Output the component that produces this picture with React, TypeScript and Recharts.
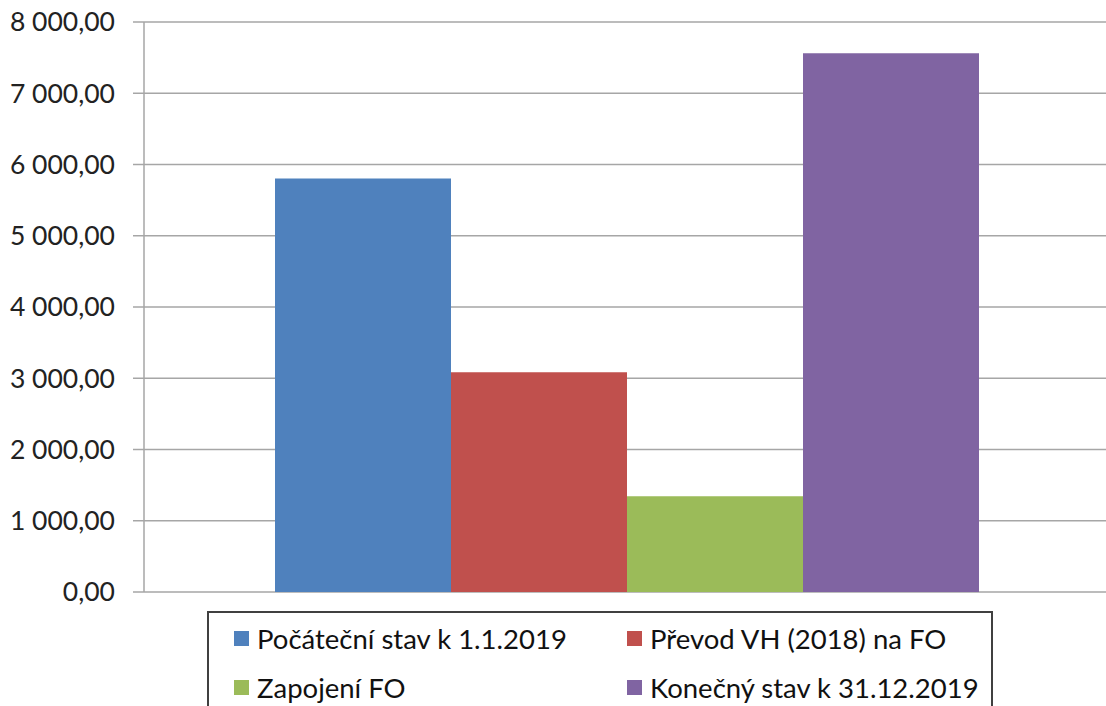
import React from 'react';
import { BarChart, Bar, XAxis, YAxis, CartesianGrid } from 'recharts';

const categories = ['2019'];
const seriesNames = [
  'Počáteční stav k 1.1.2019',
  'Převod VH (2018) na FO',
  'Zapojení FO',
  'Konečný stav k 31.12.2019',
];
const seriesValues = [5805, 3085, 1345, 7560];
const yTicks = [0, 1000, 2000, 3000, 4000, 5000, 6000, 7000, 8000];

const COLORS = ['#4F81BD', '#C0504D', '#9BBB59', '#8064A2'];
const FONT = 'Lato, "Liberation Sans", sans-serif';

const chartData = categories.map((cat) => {
  const row: Record<string, string | number> = { name: cat };
  seriesNames.forEach((s, i) => {
    row[`s${i}`] = seriesValues[i];
  });
  return row;
});

// "8 000,00" style labels
const formatTick = (v: number) => {
  const fixed = v.toFixed(2).replace('.', ',');
  const [int, dec] = fixed.split(',');
  return int.replace(/\B(?=(\d{3})+(?!\d))/g, ' ') + ',' + dec;
};

const App: React.FC = () => {
  return (
    <div
      style={{
        position: 'absolute',
        left: 0,
        top: 0,
        width: 1106,
        height: 706,
        overflow: 'hidden',
        background: '#fff',
        fontFamily: FONT,
      }}
    >
      <BarChart
        width={1120}
        height={706}
        data={chartData}
        margin={{ top: 22, right: 10, left: 0, bottom: 114 }}
        barCategoryGap={131}
        barGap={0}
      >
        <CartesianGrid vertical={false} stroke="#a6a6a6" strokeWidth={1.5} />
        <XAxis dataKey="name" hide />
        <YAxis
          width={144}
          domain={[0, 8000]}
          ticks={yTicks}
          interval={0}
          tickFormatter={formatTick}
          axisLine={{ stroke: '#a6a6a6', strokeWidth: 1.5 }}
          tickLine={{ stroke: '#a6a6a6', strokeWidth: 1.5 }}
          tickSize={11}
          tickMargin={18}
          tick={{ fontSize: 26.5, fill: '#222', fontFamily: FONT }}
        />
        {seriesNames.map((s, i) => (
          <Bar key={s} dataKey={`s${i}`} name={s} fill={COLORS[i]} isAnimationActive={false} />
        ))}
      </BarChart>

      {/* Legend box */}
      <div
        style={{
          position: 'absolute',
          left: 207,
          top: 611,
          width: 786,
          height: 120,
          border: '2px solid #404040',
          boxSizing: 'border-box',
          display: 'grid',
          gridTemplateColumns: '393px 393px',
          gridAutoRows: '49px',
          paddingTop: 1,
        }}
      >
        {seriesNames.map((s, i) => (
          <div
            key={s}
            style={{
              display: 'flex',
              alignItems: 'center',
              paddingLeft: 25,
              fontSize: 27.5,
              color: '#111',
              whiteSpace: 'nowrap',
            }}
          >
            <span
              style={{
                width: 15,
                height: 15,
                background: COLORS[i],
                marginRight: 8,
                display: 'inline-block',
              }}
            />
            {s}
          </div>
        ))}
      </div>
    </div>
  );
};

export default App;
